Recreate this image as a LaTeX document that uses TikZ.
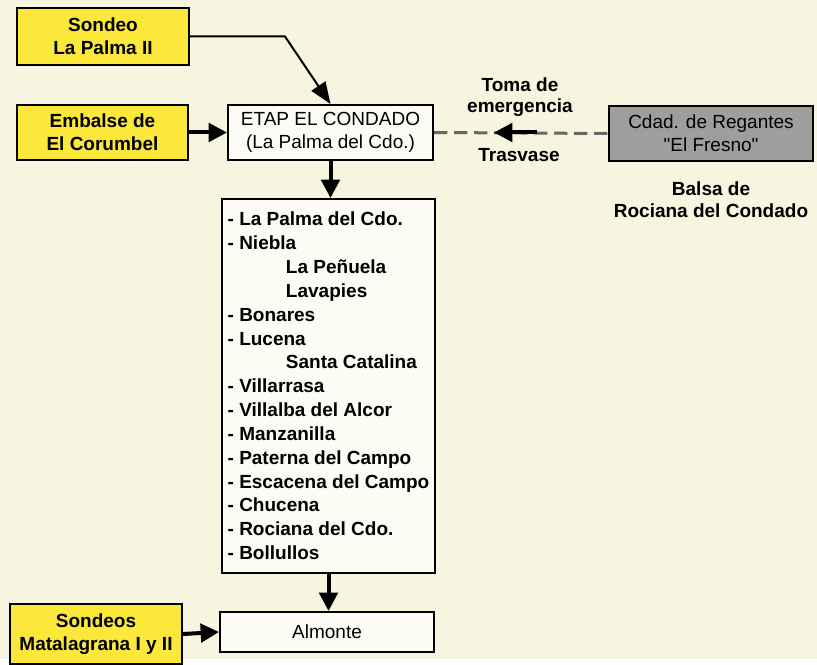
\documentclass[tikz,border=0pt]{standalone}
\usepackage{fontspec}
\setmainfont{Liberation Sans}[Ligatures=TeXOff]
\usetikzlibrary{arrows.meta}
\definecolor{fondo}{RGB}{247,244,224}
\definecolor{amarillo}{RGB}{252,232,58}
\definecolor{gris}{RGB}{158,158,156}
\definecolor{blanco}{RGB}{253,252,244}
\begin{document}
\begin{tikzpicture}[x=0.6pt,y=-0.6pt,
	caja/.style={draw,line width=1.2pt,inner sep=0pt,align=center,font=\fontsize{11.4}{14}\selectfont},
	fuente/.style={caja,fill=amarillo,font=\fontsize{11.4}{14}\selectfont\bfseries},
	flecha/.style={-{Triangle[length=11pt,width=11pt]},line width=2.4pt},
	etiqueta/.style={align=center,font=\fontsize{11.4}{13}\selectfont\bfseries}]
			\fill[fondo] (0,0) rectangle (817,659);
			\node[fuente,minimum width=103.2pt,minimum height=34.2pt] (sondeo) at (103,36.5) {Sondeo\\La Palma II};
			\node[fuente,minimum width=102.6pt,minimum height=33pt] (embalse) at (102.5,132.5) {Embalse de\\El Corumbel};
			\node[caja,fill=blanco,minimum width=123pt,minimum height=33pt] (etap) at (330.5,132.5) {ETAP EL CONDADO\\(La Palma del Cdo.)};
			\node[caja,fill=gris,minimum width=122.4pt,minimum height=33pt] (fresno) at (711,133.5) {Cdad. de Regantes\\"El Fresno"};
			\node[caja,fill=blanco,minimum width=128pt,minimum height=224.4pt,align=left,font=\fontsize{11.4}{14.3}\selectfont\bfseries] (lista) at (328.5,386) {- La Palma del Cdo.\\- Niebla\\\hspace*{35pt}La Peñuela\\\hspace*{35pt}Lavapies\\- Bonares\\- Lucena\\\hspace*{35pt}Santa Catalina\\- Villarrasa\\- Villalba del Alcor\\- Manzanilla\\- Paterna del Campo\\- Escacena del Campo\\- Chucena\\- Rociana del Cdo.\\- Bollullos};
			\node[caja,fill=blanco,minimum width=128.4pt,minimum height=24pt] (almonte) at (327,632) {Almonte};
			\node[fuente,minimum width=103.2pt,minimum height=36pt] (sondeos) at (96,634) {Sondeos\\Matalagrana I y II};
			\node[etiqueta] (toma) at (520,97) {Toma de\\emergencia};
			\node[etiqueta] (trasvase) at (519,155) {Trasvase};
			\node[etiqueta] (balsa) at (711,200) {Balsa de\\Rociana del Condado};
			\coordinate (codo) at (285,36.5);
			\coordinate (t1) at (537,132.5);
			\coordinate (t2) at (494,132.5);
			\draw[line width=1.2pt,-{Triangle[length=13pt,width=10pt]}] (sondeo.east) -- (codo) -- (etap.north);
			\draw[flecha] (embalse.east) -- (etap.west);
			\draw[gris!65!black,line width=1.8pt,dash pattern=on 8pt off 4pt] (etap.east) -- (fresno.west);
			\draw[flecha] (t1) -- (t2);
			\draw[flecha] (etap.south) -- (etap.south |- lista.north);
			\draw[flecha] (lista.south) -- (lista.south |- almonte.north);
			\draw[flecha] (sondeos.east) -- (almonte.west);
		\end{tikzpicture}
\end{document}
